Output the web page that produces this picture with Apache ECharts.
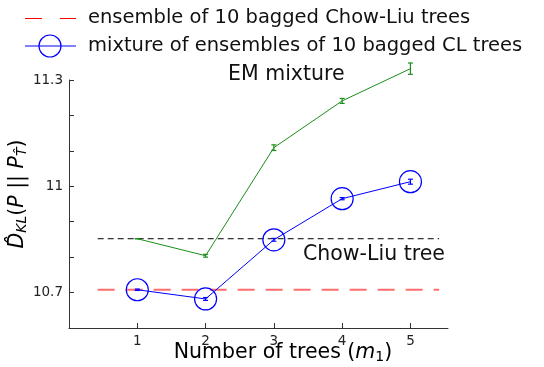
<!DOCTYPE html>
<html><head><meta charset="utf-8">
<script src="https://cdn.jsdelivr.net/npm/echarts@6/dist/echarts.min.js"></script>
<style>html,body{margin:0;padding:0;background:#fff}#c{width:544px;height:367px}</style>
</head><body><div id="c"></div>
<script>
// Data
const xTicks = [1, 2, 3, 4, 5];
const yLabels = [10.7, 11, 11.3];
const yTicks = [10.7, 10.8, 10.9, 11, 11.1, 11.2, 11.3];
const mixtureVals = [10.708, 10.682, 10.849, 10.965, 11.013];
const mixtureErr = [0.002, 0.004, 0.004, 0.003, 0.007];
const emVals = [10.852, 10.804, 11.109, 11.241, 11.332];
const emErr = [0.0, 0.004, 0.008, 0.007, 0.016];
const ensembleLevel = 10.708;
const chowLiuLevel = 10.852;
const hlineSpan = [0.42, 5.42];
const legendNames = ['ensemble of 10 bagged Chow-Liu trees', 'mixture of ensembles of 10 bagged CL trees'];

const FONT = 'DejaVu Sans';
const chart = echarts.init(document.getElementById('c'), null, {renderer: 'canvas'});

function errData(vals, errs) {
  return xTicks.map((x, i) => [x, vals[i] - errs[i], vals[i] + errs[i]]);
}
function errRender(color, cap) {
  return function (params, api) {
    const x = api.value(0);
    const p1 = api.coord([x, api.value(1)]);
    const p2 = api.coord([x, api.value(2)]);
    const st = {stroke: color, lineWidth: 1.2};
    return {type: 'group', children: [
      {type: 'line', shape: {x1: p1[0], y1: p1[1], x2: p2[0], y2: p2[1]}, style: st},
      {type: 'line', shape: {x1: p1[0] - cap, y1: p1[1], x2: p1[0] + cap, y2: p1[1]}, style: st},
      {type: 'line', shape: {x1: p2[0] - cap, y1: p2[1], x2: p2[0] + cap, y2: p2[1]}, style: st}
    ]};
  };
}

const option = {
  animation: false,
  backgroundColor: '#fff',
  grid: {left: 69, right: 96, top: 80, bottom: 39, containLabel: false},
  xAxis: {
    type: 'value', min: 0, max: 5.55,
    axisLine: {show: true, lineStyle: {color: '#333', width: 1}},
    axisTick: {show: true, inside: true, length: 5, customValues: xTicks, lineStyle: {color: '#333'}},
    axisLabel: {customValues: xTicks, fontFamily: FONT, fontSize: 13.5, color: '#222', margin: 6},
    splitLine: {show: false}
  },
  yAxis: {
    type: 'value', min: 10.6, max: 11.3,
    axisLine: {show: true, lineStyle: {color: '#333', width: 1}},
    axisTick: {show: true, inside: true, length: 5, customValues: yTicks, lineStyle: {color: '#333'}},
    axisLabel: {customValues: yLabels, fontFamily: FONT, fontSize: 13.5, color: '#222', margin: 6,
      formatter: v => (Math.abs(v - 11) < 1e-6 ? '11' : v.toFixed(1))},
    splitLine: {show: false}
  },
  series: [
    {name: legendNames[0], type: 'line', symbol: 'none',
      data: [[hlineSpan[0], ensembleLevel], [hlineSpan[1], ensembleLevel]],
      lineStyle: {color: 'rgba(255,60,60,0.75)', width: 2, type: [17, 11]}, z: 1},
    {name: 'Chow-Liu tree', type: 'line', symbol: 'none',
      data: [[hlineSpan[0], chowLiuLevel], [hlineSpan[1], chowLiuLevel]],
      lineStyle: {color: '#000', width: 1, type: [6, 4]}, z: 1},
    {name: 'EM mixture', type: 'line', symbol: 'none', clip: false,
      data: xTicks.map((x, i) => [x, emVals[i]]),
      lineStyle: {color: '#1a8f1a', width: 1}, z: 2},
    {name: 'emErr', type: 'custom', clip: false, renderItem: errRender('#1a8f1a', 2.5),
      data: errData(emVals, emErr), z: 3},
    {name: legendNames[1], type: 'line',
      symbol: 'circle', symbolSize: 22, showSymbol: true, clip: false,
      data: xTicks.map((x, i) => [x, mixtureVals[i]]),
      itemStyle: {color: 'rgba(255,255,255,0)', borderColor: '#0000ff', borderWidth: 1.2},
      lineStyle: {color: '#0000ff', width: 1}, z: 4},
    {name: 'mixErr', type: 'custom', clip: false, renderItem: errRender('#0000ff', 2.5),
      data: errData(mixtureVals, mixtureErr), z: 5}
  ],
  graphic: [
    // legend
    {type: 'line', shape: {x1: 25, y1: 18.5, x2: 42, y2: 18.5}, style: {stroke: '#ff0000', lineWidth: 1}},
    {type: 'line', shape: {x1: 60, y1: 18.5, x2: 76, y2: 18.5}, style: {stroke: '#ff0000', lineWidth: 1}},
    {type: 'text', x: 88, y: 18, style: {text: legendNames[0], fontFamily: FONT, fontSize: 19.5, fill: '#111', verticalAlign: 'middle'}},
    {type: 'line', shape: {x1: 25, y1: 46, x2: 76, y2: 46}, style: {stroke: '#0000ff', lineWidth: 1.2}},
    {type: 'circle', shape: {cx: 50, cy: 46, r: 11}, style: {fill: 'none', stroke: '#0000ff', lineWidth: 1.2}},
    {type: 'text', x: 88, y: 46, style: {text: legendNames[1], fontFamily: FONT, fontSize: 19.5, fill: '#111', verticalAlign: 'middle'}},
    // annotations
    {type: 'text', left: 228, top: 64, style: {text: 'EM mixture', fontFamily: FONT, fontSize: 20.5, fill: '#111'}},
    {type: 'text', left: 303, top: 244, style: {text: 'Chow-Liu tree', fontFamily: FONT, fontSize: 20.5, fill: '#111'}},
    {type: 'text', x: 283, y: 353, style: {
      text: '{n|Number of trees (}{i|m}{s|1}{n|)}', align: 'center', verticalAlign: 'middle',
      rich: {
        n: {fontFamily: FONT, fontSize: 20.5, color: '#111'},
        i: {fontFamily: FONT, fontSize: 20.5, fontStyle: 'italic', color: '#111'},
        s: {fontFamily: FONT, fontSize: 14, color: '#111', verticalAlign: 'bottom', padding: [8, 0, 0, 0]}
      }}},
    {type: 'text', x: 18, y: 194, rotation: Math.PI / 2, style: {
      text: '{i|D\u0302}{s|KL}{n|(}{i|P}{n| || }{i|P}{s|T\u0302}{n|)}', align: 'center', verticalAlign: 'middle',
      rich: {
        n: {fontFamily: FONT, fontSize: 20.5, color: '#111'},
        i: {fontFamily: FONT, fontSize: 20.5, fontStyle: 'italic', color: '#111'},
        s: {fontFamily: FONT, fontSize: 14, fontStyle: 'italic', color: '#111', verticalAlign: 'bottom', padding: [8, 0, 0, 0]}
      }}}
  ]
};
chart.setOption(option);
</script></body></html>
